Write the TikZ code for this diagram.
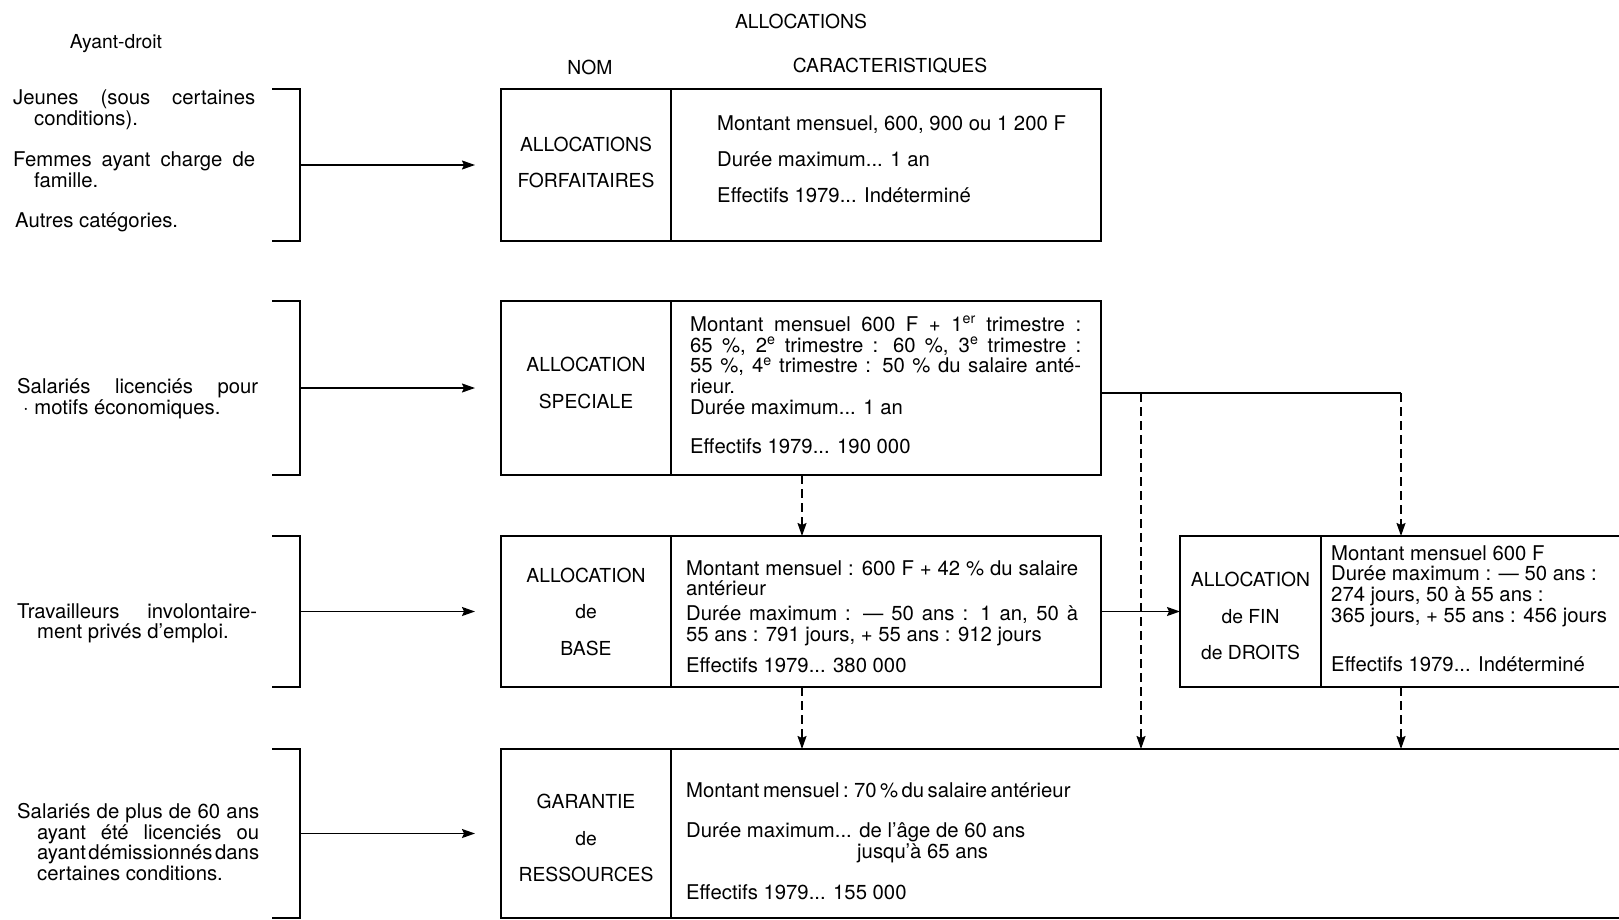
\documentclass[tikz,border=0pt]{standalone}
\usepackage{fontspec}
\setmainfont{TeX Gyre Heros}
\usetikzlibrary{arrows.meta,positioning}
\tikzset{>={Stealth[length=13pt,width=9pt,inset=2pt]}}
\tikzset{
  head/.style={inner sep=0pt, font=\fontsize{19.3}{22}\selectfont},
  cell/.style={draw, line width=1.8pt, outer sep=0pt},
  namecell/.style={cell, minimum width=170pt, align=center, font=\fontsize{19.3}{36.5}\selectfont},
  txt/.style={inner sep=0pt, anchor=north west, font=\fontsize{20.3}{20.7}\selectfont},
  side/.style={txt, align=justify},
  link/.style={line width=1.6pt},
  dashlink/.style={link, dash pattern=on 9pt off 5pt}
}

\begin{document}
\begin{tikzpicture}[x=1pt,y=-1pt]
\useasboundingbox (0,0) rectangle (1619,920);
\node[head] (ayant) at (116,44) {Ayant-droit};
\node[head] (alloc) at (801,21) {ALLOCATIONS};
\node[head] (nom) at (590,67) {NOM};
\node[head] (carac) at (890,66) {CARACTERISTIQUES};

\node[side, text width=242pt] (jeunes) at (13,90) {Jeunes (sous certaines\linebreak \hspace*{21pt}conditions).};
\node[side, text width=242pt] (femmes) at (13,152) {Femmes ayant charge de\linebreak \hspace*{21pt}famille.};
\node[side, text width=242pt] (autres) at (15,213) {Autres catégories.};
\node[side, text width=241pt] (licen) at (17,378) {Salariés licenciés pour\linebreak \hspace*{6pt}· motifs économiques.};
\node[side, text width=240pt] (travail) at (17,603) {Travailleurs involontaire-\linebreak \hspace*{20pt}ment privés d'emploi.};
\node[side, text width=242pt] (plus60) at (17,803) {Salariés de plus de 60 ans\linebreak \hspace*{20pt}ayant été licenciés ou\linebreak \hspace*{20pt}ayant\hspace{2.5pt plus 2pt}démissionnés\hspace{2.5pt plus 2pt}dans\linebreak \hspace*{20pt}certaines conditions.};

\node[namecell, minimum height=152pt, text depth=5pt] (forf-n) at (586,165) {ALLOCATIONS\\FORFAITAIRES};
\node[cell, minimum width=430pt, minimum height=152pt, right=0pt of forf-n] (forf-c) {};
\node[txt, align=left] (forf-t) at ([xshift=46pt,yshift=-27pt]forf-c.north west) {Montant mensuel, 600, 900 ou 1 200 F\\[15.3pt]Durée maximum... 1 an\\[15.3pt]Effectifs 1979... Indéterminé};

\node[namecell, minimum height=174pt, text depth=10pt] (spec-n) at (586,388) {ALLOCATION\\SPECIALE};
\node[cell, minimum width=430pt, minimum height=174pt, right=0pt of spec-n] (spec-c) {};
\node[txt, align=justify, text width=391pt] (spec-t) at ([xshift=19pt,yshift=-15pt]spec-c.north west) {Montant mensuel 600 F + 1\textsuperscript{er} trimestre~:\linebreak 65~\%, 2\textsuperscript{e} trimestre~: 60~\%, 3\textsuperscript{e} trimestre~:\linebreak 55~\%, 4\textsuperscript{e} trimestre~: 50~\% du salaire anté-\linebreak rieur.\\Durée maximum... 1 an\\[19pt]Effectifs 1979... 190 000};

\node[namecell, minimum height=151pt] (base-n) at (586,611.5) {ALLOCATION\\de\\BASE};
\node[cell, minimum width=430pt, minimum height=151pt, right=0pt of base-n] (base-c) {};
\node[txt, align=justify, text width=392pt] (base-t) at ([xshift=15pt,yshift=-24pt]base-c.north west) {Montant mensuel : 600 F + 42~\% du salaire\linebreak antérieur\\[4pt]Durée maximum : — 50 ans : 1 an, 50 à\linebreak 55 ans : 791 jours, + 55 ans : 912 jours\\[11pt]Effectifs 1979... 380 000};

\node[namecell, minimum width=141pt, minimum height=151pt, text height=97pt] (fin-n) at (1250.5,611.5) {ALLOCATION\\de FIN\\de DROITS};
\node[cell, minimum width=320pt, minimum height=151pt, right=0pt of fin-n] (fin-c) {};
\node[txt, align=left] (fin-t) at ([xshift=10pt,yshift=-9pt]fin-c.north west) {Montant mensuel 600 F\\Durée maximum : — 50 ans :\\274 jours, 50 à 55 ans :\\365 jours, + 55 ans : 456 jours\\[29pt]Effectifs 1979... Indéterminé};

\node[namecell, minimum height=169pt, text height=97pt] (gar-n) at (586,833.5) {GARANTIE\\de\\RESSOURCES};
\node[cell, minimum width=971pt, minimum height=169pt, right=0pt of gar-n] (gar-c) {};
\node[txt, align=left] (gar-t) at ([xshift=15pt,yshift=-33pt]gar-c.north west) {{\spaceskip=0.17em Montant mensuel : 70~\% du salaire antérieur}\\[20pt]Durée maximum... de l'âge de 60 ans\\\hspace*{171pt}jusqu'à 65 ans\\[20pt]Effectifs 1979... 155 000};

\foreach \b in {forf,spec,base,gar}{
  \draw[link] ([xshift=-229pt]\b-n.north west) -| ([xshift=-201pt]\b-n.west) |- ([xshift=-229pt]\b-n.south west);
  \draw[link,->,shorten >=26pt] ([xshift=-201pt]\b-n.west) -- (\b-n.west);
}

\coordinate (sp-b) at ([xshift=131pt]spec-c.south west);
\draw[dashlink,->] (sp-b) -- (sp-b |- base-c.north);
\draw[dashlink,->] (sp-b |- base-c.south) -- (sp-b |- gar-c.north);
\coordinate (sp-out) at ([yshift=-5pt]spec-c.east);
\coordinate (fin-in) at ([xshift=80pt]fin-c.north west);
\coordinate (gar-in) at ([xshift=470pt]gar-c.north west);
\draw[link] (sp-out) -- (sp-out -| fin-in);
\draw[dashlink,->] (sp-out -| fin-in) -- (fin-in);
\draw[dashlink,->] (sp-out -| gar-in) -- (gar-in);
\draw[link,->] (base-c.east) -- (fin-n.west);
\draw[dashlink,->] (fin-in |- fin-c.south) -- (fin-in |- gar-c.north);
\end{tikzpicture}
\end{document}
